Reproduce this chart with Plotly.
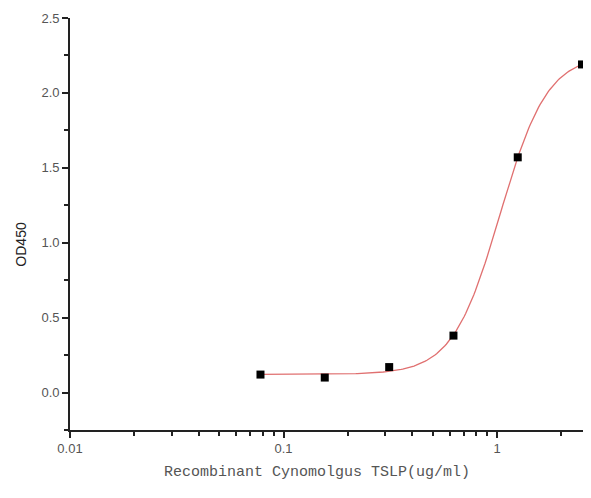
import numpy as np
import plotly.graph_objects as go

# Data
conc = [0.078, 0.156, 0.3125, 0.625, 1.25, 2.5]
od450 = [0.12, 0.10, 0.17, 0.38, 1.57, 2.19]
x_tickvals = [0.01, 0.1, 1]
y_tickvals = [0.0, 0.5, 1.0, 1.5, 2.0, 2.5]
x_title = "Recombinant Cynomolgus TSLP(ug/ml)"
y_title = "OD450"


def four_pl(x, p):
    a, d, c, b = p
    return d + (a - d) / (1.0 + (x / c) ** b)


def fit_four_pl(x, y, p0):
    x = np.asarray(x, float)
    y = np.asarray(y, float)
    p = np.array(p0, float)
    lam = 1e-2
    def sse(pp):
        if pp[2] <= 0:
            return np.inf
        return float(np.sum((four_pl(x, pp) - y) ** 2))
    cur = sse(p)
    for _ in range(500):
        r = four_pl(x, p) - y
        J = np.zeros((len(x), len(p)))
        for j in range(len(p)):
            h = 1e-6 * max(abs(p[j]), 1e-3)
            pp = p.copy()
            pp[j] += h
            J[:, j] = (four_pl(x, pp) - four_pl(x, p)) / h
        A = J.T @ J
        g = J.T @ r
        step = np.linalg.solve(A + lam * np.diag(np.diag(A) + 1e-12), -g)
        newp = p + step
        new = sse(newp)
        if new < cur:
            p, cur = newp, new
            lam *= 0.3
        else:
            lam *= 10
        if lam > 1e10:
            break
    return p


params = fit_four_pl(conc, od450, [0.11, 2.3, 1.0, 2.5])
xs = np.logspace(np.log10(min(conc)), np.log10(max(conc)), 200)
ys = four_pl(xs, params)

fig = go.Figure()
fig.add_trace(go.Scatter(
    x=xs, y=ys, mode="lines",
    line=dict(color="#e07070", width=1.3),
    hoverinfo="skip", showlegend=False, cliponaxis=False,
))
fig.add_trace(go.Scatter(
    x=conc, y=od450, mode="markers",
    marker=dict(symbol="square", size=8, color="black"),
    showlegend=False, cliponaxis=False,
))

# The page body has an 8px default margin, so the figure is drawn 8px smaller
fig.update_layout(
    width=583, height=490,
    margin=dict(l=62, r=0, t=10, b=68),
    paper_bgcolor="white", plot_bgcolor="white",
    font=dict(family="Arial, Liberation Sans, sans-serif", size=13, color="#555"),
)
fig.update_xaxes(
    type="log", range=[np.log10(x_tickvals[0]), 0.44], automargin=False,
    dtick=1,
    ticks="outside", ticklen=6, tickwidth=1.5, tickcolor="#222",
    minor=dict(dtick="D1", ticks="outside", ticklen=4, tickcolor="#222"),
    showline=True, linecolor="#222", linewidth=1.6,
    showgrid=False, zeroline=False,
)
fig.update_yaxes(
    range=[-0.25, y_tickvals[-1]], automargin=False,
    dtick=y_tickvals[1] - y_tickvals[0], tickformat=".1f",
    ticks="outside", ticklen=6, tickwidth=1.5, tickcolor="#222",
    minor=dict(dtick=(y_tickvals[1] - y_tickvals[0]) / 2, ticks="outside",
               ticklen=4, tickcolor="#222"),
    showline=True, linecolor="#222", linewidth=1.6,
    showgrid=False, zeroline=False,
)
fig.add_annotation(
    text=y_title, textangle=-90, showarrow=False,
    xref="paper", yref="paper", x=-0.094, y=0.45,
    xanchor="center", yanchor="middle",
    font=dict(family="Arial, Liberation Sans, sans-serif", size=14, color="#222"),
)
fig.add_annotation(
    text=x_title, showarrow=False,
    xref="paper", yref="paper", x=0.474, y=-0.104,
    xanchor="center", yanchor="middle",
    font=dict(family="Liberation Mono, monospace", size=15, color="#555"),
)

fig.write_html("out.html")
